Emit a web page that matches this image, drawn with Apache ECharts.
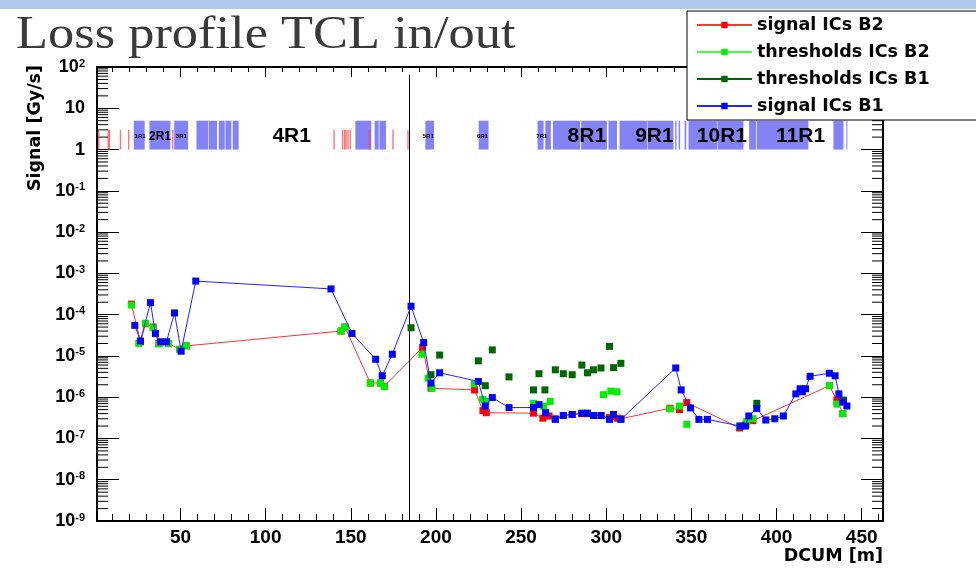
<!DOCTYPE html>
<html>
<head>
<meta charset="utf-8">
<title>Loss profile TCL in/out</title>
<script src="https://cdn.jsdelivr.net/npm/echarts@6/dist/echarts.min.js"></script>
<style>
html, body { margin: 0; padding: 0; background: #fff; }
#chart_container { width: 976px; height: 573px; }
</style>
</head>
<body>
<div id="chart_container"></div>
<script>
// signal ICs B2 (red)
var sigB2Dcum = [21.2, 26.5, 29.5, 34, 37.3, 43, 49.6, 53.5, 144.3, 146.6, 161.5, 167.4, 169.7, 192.2, 197.1,
    222.7, 227.6, 229.6, 257.3, 262.8, 266.4, 270.1, 274.8, 280, 285.7, 289, 292.5, 296.9, 301.9, 304.3, 306.5,
    308.6, 337.4, 343, 347.3, 378.2, 382, 386.1, 431, 435.4, 438.9];
var sigB2 = [1.8e-4, 2.2e-5, 6e-5, 5e-5, 2e-5, 2e-5, 1.45e-5, 1.75e-5, 4e-5, 5e-5, 2.2e-6, 2.2e-6, 1.85e-6, 1.6e-5, 1.65e-6,
    1.5e-6, 4.7e-7, 4.2e-7, 4.1e-7, 3.1e-7, 3.5e-7, 3.0e-7, 3.6e-7, 3.8e-7, 4.0e-7, 4.0e-7, 3.6e-7, 3.6e-7, 3.2e-7, 3.4e-7, 3.1e-7,
    3.0e-7, 5.4e-7, 5e-7, 7.4e-7, 1.8e-7, 2.2e-7, 2.7e-7, 1.9e-6, 8.5e-7, 4e-7];

// thresholds ICs B2 (light green)
var thrB2Dcum = [21.2, 25.5, 29.5, 34, 37.3, 43, 49.6, 53.5, 144.3, 146.6, 161.5, 167.4, 169.7, 191.8, 195.4, 197.7,
    222.5, 227.4, 229.5, 257.3, 263.2, 267.1, 298.4, 302.7, 306.3, 337.4, 343, 347.3, 378.2, 382.5, 386.1, 431, 435.4, 438.9];
var thrB2 = [1.7e-4, 2e-5, 6.2e-5, 4.8e-5, 1.95e-5, 2e-5, 1.45e-5, 1.75e-5, 4e-5, 5e-5, 2.2e-6, 2.2e-6, 1.8e-6, 1.1e-5, 2.9e-6, 1.65e-6,
    2.1e-6, 8.9e-7, 8e-7, 7.1e-7, 6.0e-7, 7.9e-7, 1.15e-6, 1.4e-6, 1.35e-6, 5.2e-7, 6.1e-7, 2.2e-7, 2e-7, 2.6e-7, 3e-7, 1.9e-6, 6.8e-7, 4e-7];

// thresholds ICs B1 (dark green)
var thrB1Dcum = [185.4, 197.1, 202.2, 224.9, 229, 233.1, 242.9, 257.3, 260.5, 264, 270.1, 274.8, 280, 285.7, 289,
    292.5, 296.9, 301.9, 304.3, 308.6, 388.4, 439.3];
var thrB1 = [4.8e-5, 3.5e-6, 1.05e-5, 7.6e-6, 1.9e-6, 1.4e-5, 3.1e-6, 1.5e-6, 3.7e-6, 1.5e-6, 4.6e-6, 3.7e-6, 3.5e-6, 6.0e-6, 3.9e-6,
    4.6e-6, 5.1e-6, 1.7e-5, 5.2e-6, 6.6e-6, 7.1e-7, 8.5e-7];

// signal ICs B1 (blue)
var sigB1Dcum = [23.2, 26.5, 32.4, 35.3, 38.3, 41.8, 46.5, 50.4, 59, 138.4, 150.7, 164.6, 168.5, 174.4, 185.4, 192.8,
    197.1, 202.2, 224.9, 229, 233.1, 242.9, 257.3, 260.5, 264.4, 270.1, 274.8, 280, 285.7, 289, 292.5, 296.9, 301.9,
    304.3, 308.6, 340.8, 344, 349.5, 354.4, 359.4, 378.6, 381.7, 383.7, 388.4, 393.7, 399, 404, 411.3, 413.8, 415.2,
    417, 419.7, 431, 434.4, 436.6, 438.9, 441.3];
var sigB1 = [5.5e-5, 2.3e-5, 1.95e-4, 3.5e-5, 2.2e-5, 2.2e-5, 1.1e-4, 1.3e-5, 6.5e-4, 4.2e-4, 3.5e-5, 8.3e-6, 3.3e-6, 1.1e-5, 1.6e-4, 2.1e-5,
    2.2e-6, 3.9e-6, 2.4e-6, 6.1e-7, 9.8e-7, 5.6e-7, 5.6e-7, 6.6e-7, 4.2e-7, 2.9e-7, 3.6e-7, 3.8e-7, 4.1e-7, 4.1e-7, 3.6e-7, 3.6e-7, 2.9e-7,
    3.8e-7, 2.9e-7, 5.1e-6, 1.5e-6, 5.5e-7, 2.9e-7, 2.9e-7, 2.0e-7, 2.0e-7, 3.5e-7, 5.3e-7, 2.8e-7, 3.0e-7, 3.5e-7, 1.2e-6, 1.6e-6, 1.35e-6,
    1.6e-6, 3.2e-6, 3.8e-6, 3.3e-6, 1.2e-6, 7.6e-7, 6.1e-7];

// IC layout band (DCUM ranges), drawn between bandBase and the tops below
var blueBlocks = [[22.6, 29.0], [31.8, 44.1], [46.3, 54.5], [59.4, 66.3], [66.6, 71.5], [72.5, 76], [76.4, 79.9], [80.7, 84.2],
    [152.7, 162.1], [164, 166.4], [166.8, 170.7], [193.8, 198.9], [225.1, 230.9], [259.7, 263.2], [264.2, 267.5],
    [268.7, 284.7], [285.3, 300.4], [301.3, 306.3], [307.8, 323.9], [324.2, 339.5], [340.5, 341.3], [342.5, 343.4],
    [346, 347], [348.3, 365], [365.3, 380.6], [383.9, 388], [388.4, 418.7], [433.4, 439.3], [441, 441.6]];
var redStripes = [2, 7.6, 8.3, 14.8, 19.6, 45.5, 140.2, 145.2, 146.4, 147.2, 148.4, 149.7, 160.9, 174.8, 183.6];
var bandBase = 1, blueTop = 5, redTop = 3, labelLevel = 2.1;

var bigSectors = ['4R1', '8R1', '9R1', '10R1', '11R1'];
var bigSectorPos = [115.3, 288.6, 328.3, 367.9, 414.1];
var midSectors = ['2R1'];
var midSectorPos = [38];
var tinySectors = ['1R1', '3R1', '5R1', '6R1', '7R1'];
var tinySectorPos = [26.3, 50.5, 195.5, 227.4, 262.2];

var tclPos = 184.4, tclTop = 65;

var xMin = 1, xMax = 462.5, yMin = 1e-9, yMax = 100;
var minorSteps = [2, 3, 4, 5, 6, 7, 8, 9];

function pairs(xs, ys) {
    return xs.map(function (x, i) { return [x, ys[i]]; });
}

// minor tick values of the log axis: 2..9 times each decade
var minorTickVals = [];
for (var e = -9; e < 2; e++) {
    minorSteps.forEach(function (k) { minorTickVals.push([xMin, k * Math.pow(10, e)]); });
}

var dom = document.getElementById("chart_container");
var myChart = echarts.init(dom, null, { renderer: 'canvas' });
var font = '"Liberation Sans", Arial, sans-serif';
var wideFont = '"DejaVu Sans", sans-serif';

// sector names on the IC band, as text marks placed by the axes
function sectorSeries(names, pos, size) {
    return {
        type: 'custom', silent: true, z: 3,
        data: pos,
        encode: { x: 0 },
        renderItem: function (params, api) {
            var p = api.coord([api.value(0), labelLevel]);
            return {
                type: 'text', x: p[0], y: p[1],
                style: {
                    text: names[params.dataIndex], fill: '#000',
                    font: 'bold ' + size + 'px ' + font,
                    align: 'center', verticalAlign: 'middle'
                }
            };
        }
    };
}

function logAxis(pos, showLabel) {
    return {
        type: 'log', logBase: 10, position: pos, min: yMin, max: yMax, interval: 1,
        axisLine: { lineStyle: { color: '#000', width: 2 } },
        axisTick: { inside: true, length: 22, lineStyle: { color: '#000' } },
        splitLine: { show: false },
        axisLabel: {
            show: showLabel,
            margin: 12,
            formatter: function (v) {
                var e = Math.round(Math.log10(v));
                if (e === 0) return '{b|1}';
                if (e === 1) return '{b|10}';
                return '{b|10}{s|' + e + '}';
            },
            rich: {
                b: { fontFamily: font, fontWeight: 'bold', fontSize: 18, color: '#000' },
                s: { fontFamily: font, fontWeight: 'bold', fontSize: 11, color: '#000', verticalAlign: 'top' }
            }
        }
    };
}

var option = {
    animation: false,
    backgroundColor: '#fff',
    graphic: [
        { type: 'rect', z: -1, shape: { x: 0, y: 0, width: 976, height: 9 }, style: { fill: '#aec9ed' } },
        {
            type: 'text', x: 16, y: 36, scaleX: 1.14,
            style: { text: 'Loss profile TCL in/out', font: '46px "Liberation Serif", serif', fill: '#3a3a3a', align: 'left', verticalAlign: 'middle' }
        },
        {
            type: 'text', x: 35, y: 128, rotation: Math.PI / 2,
            style: { text: 'Signal [Gy/s]', font: 'bold 17.5px ' + wideFont, fill: '#000', align: 'center', verticalAlign: 'middle' }
        }
    ],
    legend: {
        z: 10,
        left: 687,
        top: 11,
        orient: 'vertical',
        padding: [5, 80, 5, 9],
        itemGap: 9,
        itemWidth: 55,
        itemHeight: 8,
        backgroundColor: '#fff',
        borderColor: '#000',
        borderWidth: 1,
        textStyle: { fontFamily: wideFont, fontWeight: 'bold', fontSize: 17.5, color: '#000' },
        data: [
            { name: 'signal ICs B2' },
            { name: 'thresholds ICs B2', lineStyle: { opacity: 1, width: 2, color: '#44ff44' } },
            { name: 'thresholds ICs B1', lineStyle: { opacity: 1, width: 2, color: '#006600' } },
            { name: 'signal ICs B1' }
        ]
    },
    grid: { left: 97, right: 93, top: 67, bottom: 52 },
    xAxis: [
        {
            type: 'value', position: 'bottom', min: xMin, max: xMax, splitNumber: 9,
            axisLine: { lineStyle: { color: '#000', width: 2 } },
            axisTick: { inside: true, length: 13, lineStyle: { color: '#000' } },
            minorTick: { show: true, splitNumber: 5, length: 7, lineStyle: { color: '#000' } },
            splitLine: { show: false },
            axisLabel: { showMinLabel: false, showMaxLabel: false, margin: 7, fontFamily: font, fontWeight: 'bold', fontSize: 19, color: '#000' },
            name: 'DCUM [m]', nameLocation: 'end', nameGap: 0,
            nameTextStyle: { align: 'right', verticalAlign: 'top', padding: [26, 0, 0, 0], fontFamily: wideFont, fontWeight: 'bold', fontSize: 17.5, color: '#000' }
        },
        {
            type: 'value', position: 'top', min: xMin, max: xMax, splitNumber: 9,
            axisLine: { lineStyle: { color: '#000', width: 2 } },
            axisTick: { inside: true, length: 10, lineStyle: { color: '#000' } },
            minorTick: { show: true, splitNumber: 5, length: 5, lineStyle: { color: '#000' } },
            splitLine: { show: false },
            axisLabel: { show: false }
        }
    ],
    yAxis: [logAxis('left', true), logAxis('right', false)],
    series: [
        {
            name: 'log minor ticks', type: 'custom', silent: true, z: 1, clip: false,
            data: minorTickVals,
            encode: { x: 0, y: 1 },
            renderItem: function (params, api) {
                var l = api.coord([xMin, api.value(1)]);
                var r = api.coord([xMax, api.value(1)]);
                var st = { stroke: '#000', lineWidth: 1 };
                return {
                    type: 'group',
                    children: [
                        { type: 'line', shape: { x1: l[0], y1: l[1], x2: l[0] + 11, y2: l[1] }, style: st },
                        { type: 'line', shape: { x1: r[0] - 11, y1: r[1], x2: r[0], y2: r[1] }, style: st }
                    ]
                };
            }
        },
        {
            name: 'ic band blue', type: 'custom', silent: true, z: 1,
            data: blueBlocks,
            encode: { x: [0, 1] },
            renderItem: function (params, api) {
                var p0 = api.coord([api.value(0), bandBase]);
                var p1 = api.coord([api.value(1), blueTop]);
                return {
                    type: 'rect',
                    shape: { x: p0[0], y: p1[1], width: Math.max(p1[0] - p0[0], 1), height: p0[1] - p1[1] },
                    style: { fill: '#8383f6' }
                };
            }
        },
        {
            name: 'ic band red', type: 'custom', silent: true, z: 1,
            data: redStripes,
            encode: { x: 0 },
            renderItem: function (params, api) {
                var p0 = api.coord([api.value(0), bandBase]);
                var p1 = api.coord([api.value(0), redTop]);
                return {
                    type: 'rect',
                    shape: { x: p0[0] - 0.7, y: p1[1], width: 1.4, height: p0[1] - p1[1] },
                    style: { fill: 'rgba(255,70,70,0.75)' }
                };
            }
        },
        sectorSeries(bigSectors, bigSectorPos, 21),
        sectorSeries(midSectors, midSectorPos, 12),
        sectorSeries(tinySectors, tinySectorPos, 6),
        {
            name: 'signal ICs B2', type: 'line', z: 4,
            data: pairs(sigB2Dcum, sigB2),
            color: '#ff0000',
            symbol: 'rect', symbolSize: 7, showSymbol: true,
            lineStyle: { width: 1, color: '#ff3333' },
            itemStyle: { color: '#ff0000' }
        },
        {
            name: 'thresholds ICs B2', type: 'line', z: 5,
            data: pairs(thrB2Dcum, thrB2),
            color: '#00ee00',
            symbol: 'rect', symbolSize: 7, showSymbol: true,
            lineStyle: { width: 1, opacity: 0 },
            itemStyle: { color: '#00ee00' }
        },
        {
            name: 'thresholds ICs B1', type: 'line', z: 6,
            data: pairs(thrB1Dcum, thrB1),
            color: '#006600',
            symbol: 'rect', symbolSize: 7, showSymbol: true,
            lineStyle: { width: 1, opacity: 0 },
            itemStyle: { color: '#006600' }
        },
        {
            name: 'signal ICs B1', type: 'line', z: 7,
            data: pairs(sigB1Dcum, sigB1),
            color: '#0000ff',
            symbol: 'rect', symbolSize: 7, showSymbol: true,
            lineStyle: { width: 1, color: '#2222ff' },
            itemStyle: { color: '#0000ff' },
            markLine: {
                silent: true, symbol: 'none', label: { show: false },
                lineStyle: { color: '#000', width: 1, type: 'solid' },
                data: [[{ coord: [tclPos, tclTop] }, { coord: [tclPos, yMin] }]]
            }
        }
    ]
};

myChart.setOption(option, true);
myChart.resize();
</script>
</body>
</html>
